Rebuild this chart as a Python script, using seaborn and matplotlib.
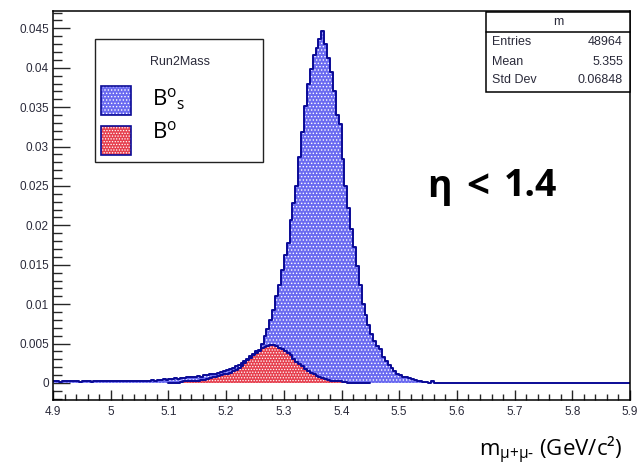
import numpy as np
import pandas as pd
import matplotlib
matplotlib.use("Agg")
import matplotlib.pyplot as plt
from matplotlib.patches import Rectangle
from matplotlib.lines import Line2D
from matplotlib.ticker import MultipleLocator, FuncFormatter
import seaborn as sns

# ---------------- data (bin width 0.005 GeV, 4.90 -> 5.90) ----------------
bin_lo, bin_hi, bin_w = 4.9, 5.9, 0.005

bs_values = (
    [0.0002, 0.0002, 0.0001, 0.0002, 0.0002, 0.0002, 0.0003, 0.0002, 0.0002, 0.0001]  # 4.90-4.95
    + [0.0002, 0.0002, 0.0002, 0.0001, 0.0002, 0.0002, 0.0002, 0.0002, 0.0003, 0.0002]  # 4.95-5.00
    + [0.0002, 0.0002, 0.0002, 0.0002, 0.0002, 0.0003, 0.0002, 0.0002, 0.0003, 0.0002]  # 5.00-5.05
    + [0.0002, 0.0003, 0.0003, 0.0002, 0.0004, 0.0003, 0.0004, 0.0004, 0.0005, 0.0004]  # 5.05-5.10
    + [0.0005, 0.0005, 0.0006, 0.0005, 0.0006, 0.0006, 0.0007, 0.0008, 0.0007, 0.0008]  # 5.10-5.15
    + [0.0009, 0.0008, 0.0010, 0.0010, 0.0011, 0.0012, 0.0012, 0.0013, 0.0014, 0.0015]  # 5.15-5.20
    + [0.0016, 0.0018, 0.0019, 0.0021, 0.0023, 0.0025, 0.0028, 0.0031, 0.0034, 0.0037]  # 5.20-5.25
    + [0.0040, 0.0042, 0.0049, 0.0060, 0.0068, 0.0080, 0.0092, 0.0110, 0.0124, 0.0143]  # 5.25-5.30
    + [0.0162, 0.0178, 0.0207, 0.0229, 0.0250, 0.0287, 0.0318, 0.0352, 0.0380, 0.0398]  # 5.30-5.35
    + [0.0416, 0.0425, 0.0436, 0.0446, 0.0430, 0.0412, 0.0394, 0.0370, 0.0340, 0.0328]  # 5.35-5.40
    + [0.0284, 0.0250, 0.0222, 0.0196, 0.0172, 0.0148, 0.0124, 0.0100, 0.0086, 0.0074]  # 5.40-5.45
    + [0.0062, 0.0053, 0.0047, 0.0043, 0.0033, 0.0028, 0.0023, 0.0019, 0.0015, 0.0012]  # 5.45-5.50
    + [0.0010, 0.0008, 0.0007, 0.0006, 0.0005, 0.0004, 0.0003, 0.0002, 0.0001, 0.0001]  # 5.50-5.55
    + [0.0000, 0.0002, 0.0000, 0.0000, 0.0000, 0.0000, 0.0000, 0.0000, 0.0000, 0.0000]  # 5.55-5.60
    + [0.0] * 60                                                                         # 5.60-5.90
)

b0_values = (
    [0.0] * 40                                                                           # 4.90-5.10
    + [0.0000, 0.0000, 0.0000, 0.0000, 0.0001, 0.0002, 0.0002, 0.0002, 0.0003, 0.0003]  # 5.10-5.15
    + [0.0003, 0.0004, 0.0004, 0.0005, 0.0006, 0.0007, 0.0008, 0.0009, 0.0010, 0.0011]  # 5.15-5.20
    + [0.0012, 0.0013, 0.0015, 0.0017, 0.0019, 0.0022, 0.0025, 0.0029, 0.0032, 0.0035]  # 5.20-5.25
    + [0.0038, 0.0041, 0.0044, 0.0046, 0.0047, 0.0048, 0.0048, 0.0047, 0.0045, 0.0043]  # 5.25-5.30
    + [0.0041, 0.0038, 0.0035, 0.0031, 0.0027, 0.0024, 0.0021, 0.0018, 0.0015, 0.0013]  # 5.30-5.35
    + [0.0011, 0.0009, 0.0008, 0.0006, 0.0005, 0.0004, 0.0003, 0.0003, 0.0002, 0.0002]  # 5.35-5.40
    + [0.0001, 0.0001, 0.0000, 0.0000, 0.0000, 0.0000, 0.0000, 0.0000, 0.0000, 0.0000]  # 5.40-5.45
    + [0.0] * 90                                                                         # 5.45-5.90
)

legend_title = "Run2Mass"
series_labels = [r"B$^{\mathregular{o}}$$_{\mathregular{s}}$", r"B$^{\mathregular{o}}$"]
stats_title = "m"
stats_names = ["Entries", "Mean", "Std Dev"]
stats_vals = ["48964", "5.355", "0.06848"]
x_ticks = [4.9, 5.0, 5.1, 5.2, 5.3, 5.4, 5.5, 5.6, 5.7, 5.8, 5.9]
y_ticks = [0, 0.005, 0.01, 0.015, 0.02, 0.025, 0.03, 0.035, 0.04, 0.045]
eta_parts = ["η", "<", "1.4"]

n_bins = int(round((bin_hi - bin_lo) / bin_w))
edges = np.linspace(bin_lo, bin_hi, n_bins + 1)
centers = edges[:-1] + bin_w / 2
df = pd.DataFrame({"mass": centers, "Bs": bs_values, "B0": b0_values})

# ---------------- style ----------------
sns.set_style("white")
plt.rcParams["font.family"] = ["Liberation Sans", "DejaVu Sans"]
plt.rcParams["mathtext.fontset"] = "custom"
plt.rcParams["mathtext.rm"] = "Open Sans"
plt.rcParams["mathtext.it"] = "Open Sans"
plt.rcParams["mathtext.default"] = "regular"
plt.rcParams["hatch.color"] = "white"
plt.rcParams["hatch.linewidth"] = 0.6

W, H = 639, 465
fig = plt.figure(figsize=(W / 100, H / 100), dpi=100)
fig.patch.set_facecolor("white")
ax_l, ax_r, ax_t, ax_b = 53, 630, 11, 400
ax = fig.add_axes([ax_l / W, 1 - ax_b / H, (ax_r - ax_l) / W, (ax_b - ax_t) / H])

blue_fill = "#6a6af0"
red_fill = "#e6404f"
navy = "#0a0a96"
blue_hatch = "....."
red_hatch = "......"
hist_kw = dict(bins=n_bins, binrange=(bin_lo, bin_hi), element="step", ax=ax)

# Bs histogram
sns.histplot(data=df, x="mass", weights="Bs", fill=True, color=blue_fill, alpha=1,
             linewidth=0, **hist_kw)
fill_bs = ax.collections[-1]
fill_bs.set_facecolor(blue_fill)
fill_bs.set_edgecolor("white")
fill_bs.set_linewidth(0)
fill_bs.set_hatch(blue_hatch)
sns.histplot(data=df, x="mass", weights="Bs", fill=False, color=navy, linewidth=1.4,
             **hist_kw)

# B0 histogram
sns.histplot(data=df, x="mass", weights="B0", fill=True, color=red_fill, alpha=1,
             linewidth=0, **hist_kw)
fill_b0 = ax.collections[-1]
fill_b0.set_facecolor(red_fill)
fill_b0.set_edgecolor("white")
fill_b0.set_linewidth(0)
fill_b0.set_hatch(red_hatch)
sns.histplot(data=df, x="mass", weights="B0", fill=False, color=navy, linewidth=1.4,
             bins=70, binrange=(5.1, 5.45), element="step", ax=ax)

# axes ranges
ax.set_xlim(bin_lo, bin_hi)
ax.set_ylim(-0.00216, 0.0472)
ax.set_xlabel("")
ax.set_ylabel("")

ax.set_xticks(x_ticks)
ax.set_yticks(y_ticks)
ax.xaxis.set_minor_locator(MultipleLocator(0.02))
ax.yaxis.set_minor_locator(MultipleLocator(0.001))
fmt = FuncFormatter(lambda v, p: f"{v:g}")
ax.xaxis.set_major_formatter(fmt)
ax.yaxis.set_major_formatter(fmt)
tick_col = "#2a2a3a"
ax.tick_params(axis="y", which="major", direction="in", length=12.5, width=1.0,
               left=True, right=False, labelsize=8.5, pad=3, labelcolor=tick_col)
ax.tick_params(axis="y", which="minor", direction="in", length=6.5, width=1.0,
               left=True, right=False)
ax.tick_params(axis="x", which="major", direction="in", length=7.5, width=1.0,
               bottom=True, top=False, labelsize=8.5, pad=4, labelcolor=tick_col)
ax.tick_params(axis="x", which="minor", direction="in", length=4, width=1.0,
               bottom=True, top=False)
for s in ax.spines.values():
    s.set_color("black")
    s.set_linewidth(1.1)


def fx(px):
    return px / W


def fy(py):
    return 1 - py / H


# legend box
fig.add_artist(Rectangle((fx(95), fy(162)), fx(263) - fx(95), fy(39) - fy(162),
                         transform=fig.transFigure, fill=False, edgecolor="#222222",
                         linewidth=1.0))
fig.text(fx(180), fy(62), legend_title, ha="center", va="center", fontsize=9,
         color=tick_col)
for (y0, y1), face, htch, lab, base in [((86, 115), blue_fill, blue_hatch, series_labels[0], 106),
                                         ((126, 155), red_fill, red_hatch, series_labels[1], 138)]:
    fig.add_artist(Rectangle((fx(101), fy(y1)), fx(131) - fx(101), fy(y0) - fy(y1),
                             transform=fig.transFigure, facecolor=face, edgecolor="white",
                             linewidth=0, hatch=htch))
    fig.add_artist(Rectangle((fx(101), fy(y1)), fx(131) - fx(101), fy(y0) - fy(y1),
                             transform=fig.transFigure, fill=False, edgecolor=navy,
                             linewidth=1.2))
    fig.text(fx(152), fy(base), lab, ha="left", va="baseline", fontsize=16,
             family="Open Sans", color="black")

# stats box
fig.add_artist(Rectangle((fx(486), fy(92)), fx(630) - fx(486), fy(12) - fy(92),
                         transform=fig.transFigure, facecolor="white", edgecolor="black",
                         linewidth=1.1))
fig.add_artist(Line2D([fx(486), fx(630)], [fy(32), fy(32)], transform=fig.transFigure,
                      color="black", linewidth=1.1))
fig.text(fx(558), fy(22), stats_title, ha="center", va="center", fontsize=9, color=tick_col)
for i, (nm, vl) in enumerate(zip(stats_names, stats_vals)):
    yy = [42, 62, 80][i]
    fig.text(fx(492), fy(yy), nm, ha="left", va="center", fontsize=9, color=tick_col)
    fig.text(fx(623), fy(yy), vl, ha="right", va="center", fontsize=9, color=tick_col)

# annotation  "η < 1.4"
for part, cx, base, fs in zip(eta_parts, [439, 478, 530], [197, 198, 196], [27, 29, 27]):
    fig.text(fx(cx), fy(base), part, ha="center", va="baseline", fontsize=fs,
             fontweight="bold", family="Open Sans", color="black")

# axis title
fig.text(fx(622), fy(456), r"m$_{\text{μ+μ-}}$ (GeV/c²)", ha="right",
         va="baseline", fontsize=16, family="Open Sans", color="black")

fig.savefig("out.png", dpi=100, facecolor="white")
